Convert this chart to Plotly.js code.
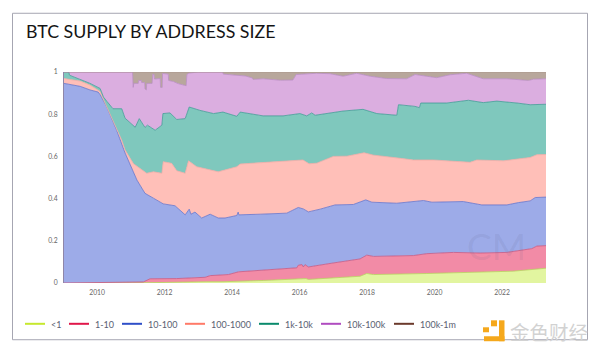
<!DOCTYPE html>
<html><head><meta charset="utf-8">
<script src="https://cdn.plot.ly/plotly-3.0.1.min.js"></script>
<style>html,body{margin:0;padding:0;background:#fff}#c{width:600px;height:353px}</style>
</head><body><div id="c"></div>
<script>
const names=['<1','1-10','10-100','100-1000','1k-10k','10k-100k','100k-1m'];
const lineColors=['#c6e82e','#e0174a','#2f4fc8','#ff7a68','#0a8a6c','#b04cc0','#6b3a2c'];
const areaFill=['#e2f5a0','#f28ba6','#9dabe8','#ffbfb8','#7fc8bd','#dbaee0','#b8a79c'];
const areaLine=['#b6d65a','#c8557f','#6272cc','#f2aaa4','#3f9a94','#b98bc4','#a8958c'];
const xRange=[2009.02,2023.30];
const tickYears=[2010,2012,2014,2016,2018,2020,2022];
const yTicks=[0,0.2,0.4,0.6,0.8,1];

// Cumulative share at the top of each band
const x0=[2009.02,2011.36,2013.25,2013.73,2014.92,2015.92,2016.01,2016.10,2016.19,2016.26,2017.79,2017.99,2018.19,2019.77,2021.14,2022.33,2023.30];
const y0=[0,0.001,0.006,0.006,0.012,0.017,0.021,0.018,0.021,0.017,0.032,0.045,0.040,0.045,0.051,0.056,0.070];
const x1=[2009.02,2011.37,2011.57,2012.36,2013.20,2013.35,2013.89,2014.19,2015.92,2015.96,2016.07,2016.11,2016.16,2016.26,2017.00,2017.79,2017.99,2018.19,2019.37,2019.77,2020.56,2021.35,2022.14,2022.88,2023.03,2023.30];
const y1=[0,0.005,0.020,0.021,0.027,0.035,0.040,0.053,0.072,0.084,0.087,0.076,0.087,0.076,0.095,0.114,0.132,0.126,0.130,0.139,0.145,0.142,0.145,0.163,0.175,0.177];
const x2=[2009.02,2009.50,2009.79,2010.03,2010.09,2010.29,2010.58,2010.83,2011.18,2011.42,2011.67,2011.96,2012.31,2012.61,2012.73,2012.78,2012.90,2013.10,2013.35,2013.59,2013.79,2014.14,2014.18,2014.20,2014.83,2015.62,2015.96,2016.11,2016.26,2016.61,2017.05,2017.59,2017.96,2018.14,2018.88,2019.67,2019.92,2020.85,2021.40,2022.14,2022.48,2022.83,2022.98,2023.30];
const y2=[0.946,0.932,0.915,0.905,0.893,0.834,0.724,0.616,0.488,0.425,0.402,0.375,0.366,0.323,0.350,0.326,0.336,0.308,0.326,0.308,0.308,0.320,0.336,0.323,0.326,0.331,0.358,0.351,0.337,0.350,0.370,0.372,0.394,0.383,0.378,0.391,0.383,0.386,0.370,0.370,0.381,0.389,0.405,0.407];
const x3=[2009.02,2009.50,2009.79,2010.09,2010.24,2010.39,2010.58,2010.73,2010.83,2011.08,2011.27,2011.47,2011.67,2011.92,2011.96,2012.21,2012.36,2012.61,2012.71,2012.95,2013.59,2014.14,2014.24,2015.92,2016.10,2016.28,2016.51,2017.00,2017.40,2017.91,2018.19,2018.98,2019.37,2019.96,2021.05,2021.25,2022.04,2022.83,2023.03,2023.30];
const y3=[0.969,0.957,0.938,0.908,0.851,0.795,0.730,0.677,0.630,0.565,0.543,0.520,0.527,0.520,0.575,0.567,0.532,0.520,0.579,0.551,0.527,0.551,0.564,0.583,0.583,0.565,0.568,0.600,0.601,0.617,0.606,0.591,0.583,0.583,0.572,0.583,0.579,0.595,0.608,0.609];
const x4=[2009.02,2009.17,2009.18,2009.50,2009.79,2010.09,2010.19,2010.29,2010.47,2010.73,2010.83,2011.13,2011.25,2011.42,2011.49,2011.72,2011.92,2011.95,2012.16,2012.36,2012.61,2012.73,2013.05,2013.45,2013.73,2014.14,2014.24,2014.92,2015.51,2016.01,2016.21,2016.36,2016.46,2017.29,2017.88,2018.29,2018.88,2018.93,2019.42,2019.55,2019.59,2020.36,2021.00,2021.44,2021.84,2022.44,2022.83,2023.30];
const y4=[1,0.998,0.985,0.965,0.946,0.922,0.881,0.861,0.826,0.826,0.781,0.738,0.779,0.737,0.748,0.724,0.748,0.803,0.806,0.775,0.779,0.834,0.818,0.803,0.810,0.790,0.810,0.792,0.792,0.803,0.792,0.806,0.795,0.815,0.823,0.803,0.795,0.845,0.837,0.831,0.853,0.853,0.866,0.855,0.862,0.853,0.845,0.847];
const x5=[2009.02,2011.05,2011.07,2011.09,2011.22,2011.23,2011.31,2011.32,2011.41,2011.42,2011.46,2011.47,2011.63,2011.65,2011.69,2011.70,2011.87,2011.88,2011.93,2011.94,2012.11,2012.12,2012.26,2012.40,2012.64,2012.66,2012.72,2013.00,2013.72,2013.74,2014.40,2014.60,2014.62,2014.92,2015.43,2015.80,2015.90,2016.50,2016.90,2017.29,2017.69,2018.09,2018.58,2019.17,2019.42,2020.06,2020.46,2020.95,2021.44,2022.14,2022.78,2022.93,2023.30];
const y5=[1,1,0.927,0.946,0.946,0.960,0.960,0.950,0.950,0.920,0.915,0.946,0.946,0.990,0.988,0.967,0.969,0.927,0.927,0.993,0.990,0.960,0.955,0.945,0.935,0.988,0.995,1,1,0.990,0.981,0.972,0.965,0.968,0.961,0.962,0.988,0.994,0.992,0.980,0.994,0.980,0.969,0.968,0.988,0.973,0.987,0.994,0.968,0.968,0.960,0.966,0.968];
const x6=[2009.02,2023.30];
const y6=[1,1];
const bandX=[x0,x1,x2,x3,x4,x5,x6];
const bandY=[y0,y1,y2,y3,y4,y5,y6];

const legendLine=[25,69,122,185,259,321,394];
const legendText=[50,94,147,210,284,346,419];
const W=600,H=353,ml=64,mr=54,mt=71.5,mb=69.5;
const pw=W-ml-mr,ph=H-mt-mb;
const px=v=>(v-ml)/pw, py=v=>(H-mb-v)/ph;

const traces=names.map((n,i)=>({x:bandX[i],y:bandY[i],name:n,mode:'lines',showlegend:false,hoverinfo:'skip',
    fill:i===0?'tozeroy':'tonexty',fillcolor:areaFill[i],line:{color:areaLine[i],width:0.8}}));
const layout={
  width:W,height:H,paper_bgcolor:'#fff',plot_bgcolor:'#fff',showlegend:false,
  margin:{l:ml,r:mr,t:mt,b:mb,pad:0,autoexpand:false},
  title:{text:'BTC SUPPLY BY ADDRESS SIZE',x:26/W,xref:'container',xanchor:'left',y:(H-31.5)/H,yref:'container',yanchor:'middle',
    font:{family:'Lato',size:17.8,color:'#141414'}},
  xaxis:{type:'linear',range:xRange,tickvals:tickYears,ticktext:tickYears.map(String),showgrid:false,zeroline:false,showline:false,
    ticks:'outside',ticklen:3,tickcolor:'rgba(0,0,0,0)',tickfont:{family:'Lato',size:6.8,color:'#666'}},
  yaxis:{range:[0,1],tickvals:yTicks,ticktext:yTicks.map(String),showgrid:false,zeroline:false,showline:true,linecolor:'#8f86a8',linewidth:1,
    ticks:'outside',ticklen:4,tickcolor:'rgba(0,0,0,0)',tickfont:{family:'Lato',size:6.8,color:'#666'}},
  shapes:[
    {type:'rect',xref:'paper',yref:'paper',layer:'below',x0:px(12.5),x1:px(587.5),y0:py(340.5),y1:py(12.5),line:{color:'#a6a6b2',width:1},fillcolor:'rgba(0,0,0,0)'},
    {type:'rect',xref:'paper',yref:'paper',x0:px(483),x1:px(489),y0:py(333),y1:py(328),line:{width:0},fillcolor:'#f5a81c'},
    {type:'rect',xref:'paper',yref:'paper',x0:px(491),x1:px(497),y0:py(327),y1:py(321),line:{width:0},fillcolor:'#f5a81c'},
    {type:'rect',xref:'paper',yref:'paper',x0:px(499),x1:px(504.5),y0:py(342),y1:py(321),line:{width:0},fillcolor:'#f5a81c'},
    {type:'rect',xref:'paper',yref:'paper',x0:px(484),x1:px(504.5),y0:py(342),y1:py(337),line:{width:0},fillcolor:'#f5a81c'}
  ].concat(names.map((n,i)=>({type:'line',xref:'paper',yref:'paper',x0:px(legendLine[i]),x1:px(legendLine[i]+20),y0:py(324.5),y1:py(324.5),line:{color:lineColors[i],width:2}}))),
  annotations:[
    {text:'CM',xref:'paper',yref:'paper',x:px(496),y:py(246),xanchor:'center',yanchor:'middle',showarrow:false,
      font:{family:'Lato',size:37,color:'rgba(90,90,130,0.11)'}},
    {text:'金色财经',xref:'paper',yref:'paper',x:px(549),y:py(332),xanchor:'center',yanchor:'middle',showarrow:false,
      font:{family:'Noto Sans CJK SC',size:19.5,color:'#d2d2d2'}}
  ].concat(names.map((n,i)=>({text:n.replace('<','&lt;'),xref:'paper',yref:'paper',x:px(legendText[i]),y:py(325),xanchor:'left',yanchor:'middle',xshift:-1,showarrow:false,
      font:{family:'Lato',size:9,color:'#5a6072'}})))
};
Plotly.newPlot('c',traces,layout,{displayModeBar:false,responsive:false,staticPlot:true});
</script></body></html>
